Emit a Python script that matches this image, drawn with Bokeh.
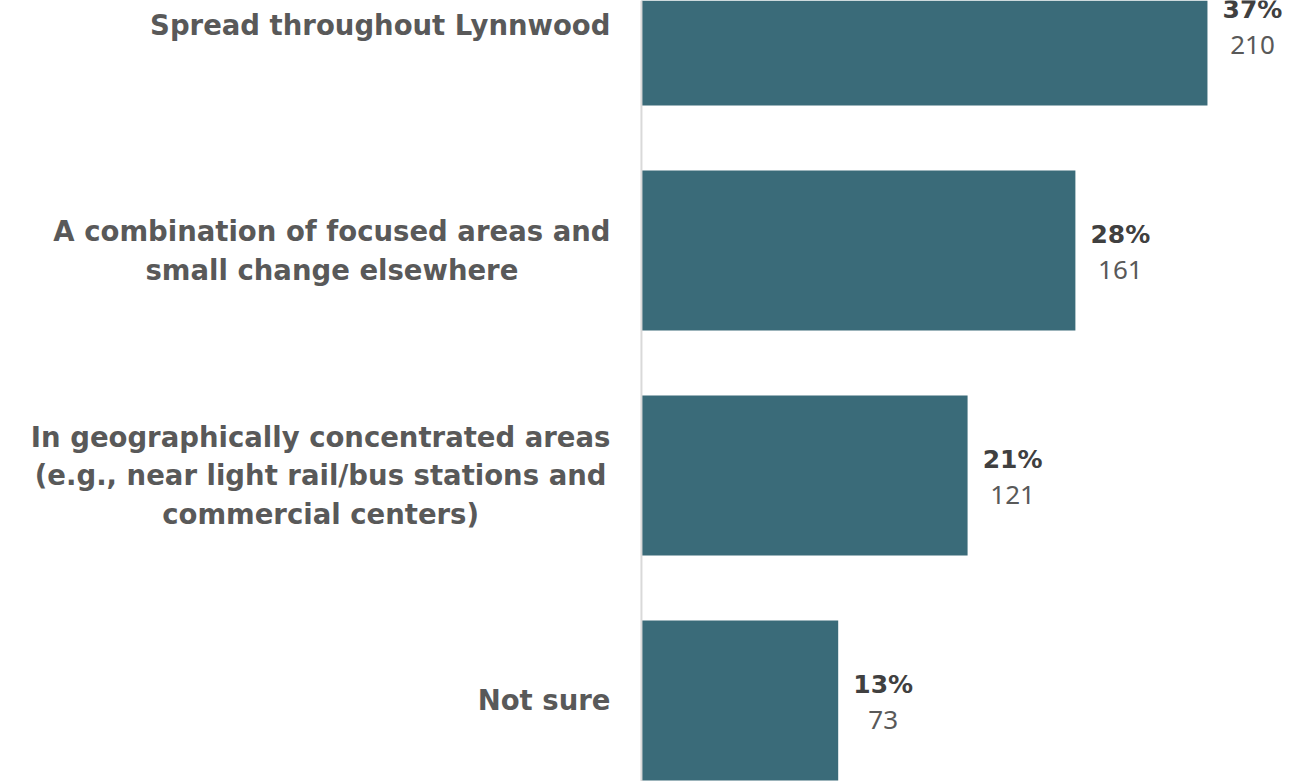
from bokeh.plotting import figure
from bokeh.models import ColumnDataSource, Range1d, Span
from bokeh.core.properties import value
from bokeh.embed import file_html
from bokeh.resources import INLINE

categories = [
    "Spread throughout Lynnwood",
    "A combination of focused areas and\nsmall change elsewhere",
    "In geographically concentrated areas\n(e.g., near light rail/bus stations and\ncommercial centers)",
    "Not sure",
]
counts = [210, 161, 121, 73]
percent_labels = ["37%", "28%", "21%", "13%"]
count_labels = ["210", "161", "121", "73"]
positions = [0, 1, 2, 3]

src = ColumnDataSource(dict(
    pos=positions, cat=categories, count=counts,
    pct=percent_labels, cnt=count_labels,
    zero=[0] * len(counts),
))

p = figure(width=1311, height=781,
           x_range=Range1d(-237.8, 248.6), y_range=Range1d(3.36, -0.111),
           output_backend="svg", toolbar_location=None,
           x_axis_type=None, y_axis_type=None, min_border=0)
p.outline_line_color = None
p.grid.visible = False
p.background_fill_color = "white"

p.hbar(y="pos", left="zero", right="count", height=0.711, source=src,
       fill_color="#3A6B79", line_color=None)

p.add_layout(Span(location=0, dimension="height", line_color="#D9D9D9", line_width=2))

p.text(x="zero", y="pos", text="cat", source=src, x_offset=-31,
       anchor=value("center_right"), text_align="center", text_baseline="middle",
       text_font=value("DejaVu Sans"), text_font_style="bold",
       text_font_size="27.5px", text_color="#595959", text_line_height=1.2)

p.text(x="count", y="pos", text="pct", source=src, x_offset=45, y_offset=-16,
       text_align="center", text_baseline="middle",
       text_font=value("DejaVu Sans"), text_font_style="bold",
       text_font_size="25px", text_color="#404040")

p.text(x="count", y="pos", text="cnt", source=src, x_offset=45, y_offset=20,
       text_align="center", text_baseline="middle",
       text_font=value("Noto Sans"), text_font_style="normal",
       text_font_size="26px", text_color="#595959")

open("out.html", "w").write(file_html(p, INLINE))
